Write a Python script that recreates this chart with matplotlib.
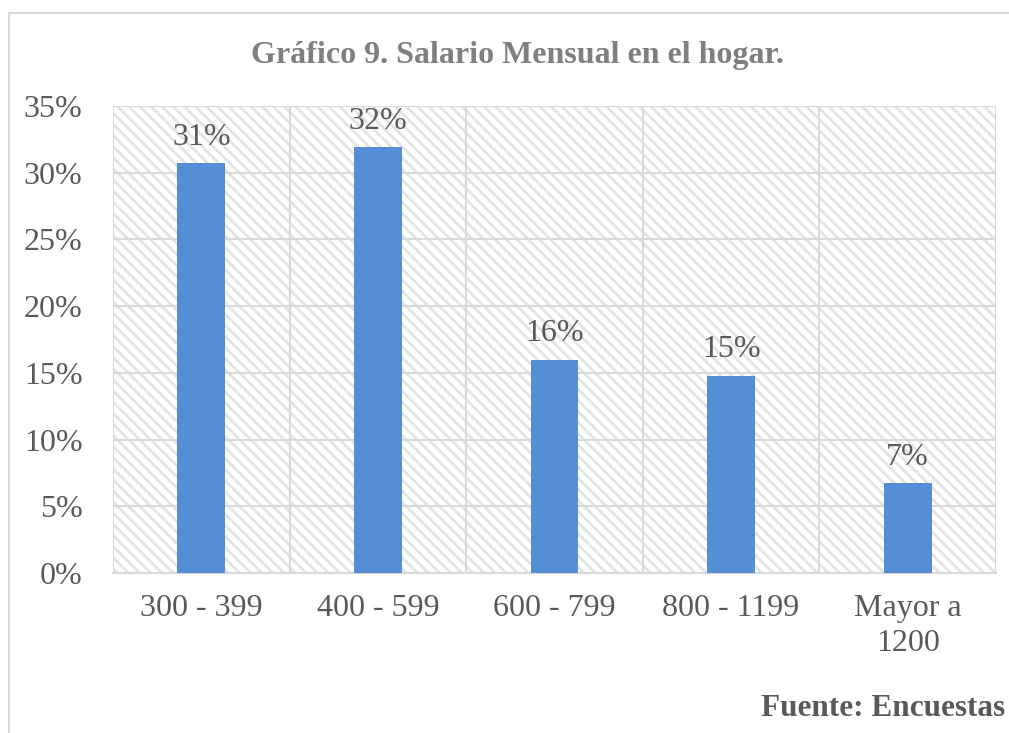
import matplotlib.pyplot as plt
from matplotlib.patches import Rectangle

categorias = ["300 - 399", "400 - 599", "600 - 799", "800 - 1199", "Mayor a\n1200"]
valores = [30.7, 31.9, 16.0, 14.8, 6.75]
etiquetas = ["31%", "32%", "16%", "15%", "7%"]
yticks = [0, 5, 10, 15, 20, 25, 30, 35]

plt.rcParams['font.family'] = ['Liberation Serif', 'DejaVu Serif']
plt.rcParams['hatch.linewidth'] = 2.0

gris = '#d9d9d9'
texto = '#595959'

fig = plt.figure(figsize=(10.09, 7.33), dpi=100)
ax = fig.add_axes([113/1009, 160/733, 883/1009, 467/733])

# marco del gráfico
fig.patches.append(Rectangle((9/1009, -0.1), 1.2, (733-13)/733 + 0.1,
                             transform=fig.transFigure, fill=False,
                             edgecolor=gris, linewidth=1.5))

x = range(len(categorias))
ax.set_xlim(-0.5, len(categorias) - 0.5)
ax.set_ylim(0, 35)

# fondo rayado
ax.axvspan(-0.5, len(categorias) - 0.5, facecolor='white', edgecolor='#e4e4e4',
           hatch='\\\\\\', linewidth=0, zorder=0)

ax.bar(x, valores, width=0.27, color='#558ed5', zorder=3)
for i, (v, t) in enumerate(zip(valores, etiquetas)):
    ax.text(i, v + 0.85, t, ha='center', va='bottom', fontsize=23, color=texto, zorder=4)

ax.set_yticks(yticks)
ax.set_yticklabels([f"{t}%" for t in yticks])
ax.set_xticks(list(x))
ax.set_xticklabels(categorias, linespacing=1.3)
ax.set_xticks([i - 0.5 for i in range(len(categorias) + 1)], minor=True)
ax.tick_params(axis='both', which='both', length=0, labelsize=23, labelcolor=texto)
ax.tick_params(axis='x', pad=15)
ax.tick_params(axis='y', pad=22)

ax.grid(axis='y', which='major', color=gris, linewidth=1.5, zorder=1)
ax.grid(axis='x', which='minor', color=gris, linewidth=1.5, zorder=1)
ax.set_axisbelow(True)
for s in ax.spines.values():
    s.set_visible(False)
ax.spines['bottom'].set_visible(True)
ax.spines['bottom'].set_color(gris)
ax.spines['bottom'].set_linewidth(1.5)

fig.text(517/1009, 1 - 55/733, "Gráfico 9. Salario Mensual en el hogar.", ha='center', va='center',
         fontsize=23, fontweight='bold', color='#7f7f7f')
fig.text(1005/1009, 1 - 709/733, "Fuente: Encuestas", ha='right', va='center',
         fontsize=22.5, fontweight='bold', color='#595959')

fig.savefig('out.png', dpi=100)
